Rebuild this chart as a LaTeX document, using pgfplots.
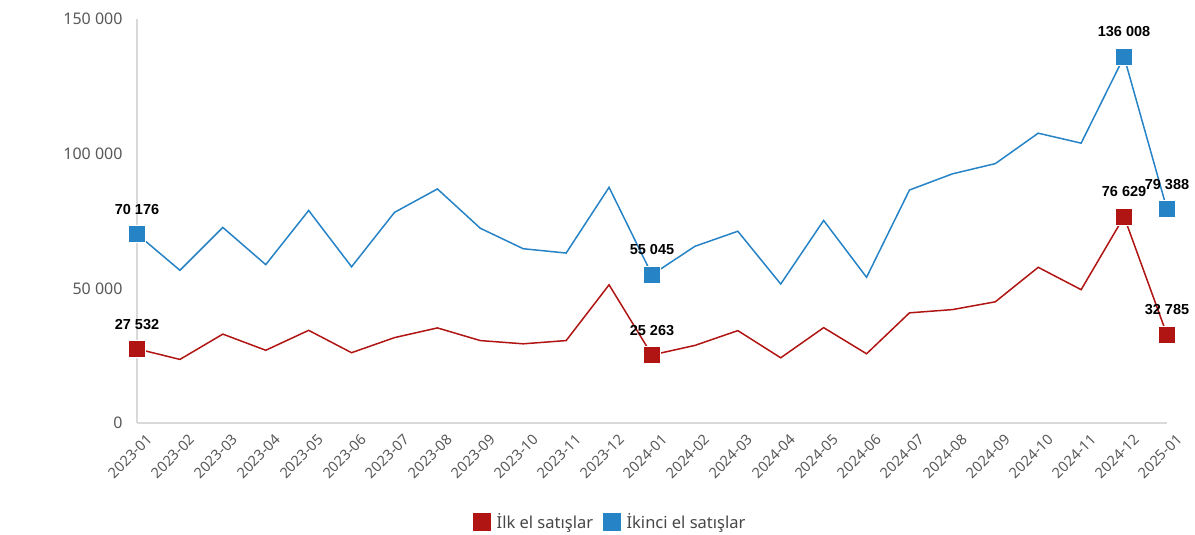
\documentclass[border=0pt]{standalone}
\usepackage{pgfplots}
\pgfplotsset{compat=1.18}
\usepackage{fontspec}
\setmainfont{Noto Sans}
\newfontfamily\lab{Liberation Sans}
\definecolor{cred}{HTML}{B01513}
\definecolor{cblue}{HTML}{2683C6}
\definecolor{tick}{HTML}{595959}
\definecolor{axl}{HTML}{D9D9D9}
\begin{document}
\begin{tikzpicture}[x=1pt,y=1pt]
\path[use as bounding box] (0,0) rectangle (1195,535);
\begin{axis}[
  at={(137pt,112pt)}, anchor=south west,
  scale only axis, width=1030pt, height=404pt,
  xmin=0, xmax=24, ymin=0, ymax=150000,
  scaled y ticks=false,
  axis x line*=bottom, axis y line*=left,
  axis line style={draw=axl, line width=1.2pt, -},
  major tick length=0pt,
  xtick={0,...,24},
  xticklabels={2023-01,2023-02,2023-03,2023-04,2023-05,2023-06,2023-07,2023-08,2023-09,2023-10,2023-11,2023-12,2024-01,2024-02,2024-03,2024-04,2024-05,2024-06,2024-07,2024-08,2024-09,2024-10,2024-11,2024-12,2025-01},
  xticklabel style={rotate=45, anchor=north east, font=\fontsize{14.5}{16}\selectfont, text=tick, inner sep=1pt, xshift=0pt, yshift=-12pt},
  ytick={0,50000,100000,150000},
  yticklabels={0,50 000,100 000,150 000},
  yticklabel style={font=\fontsize{16}{18}\selectfont, text=tick, anchor=east, xshift=-11pt},
  legend style={at={(0.4595,-0.245)}, anchor=center, draw=none, legend columns=2,
    font=\fontsize{16.5}{18}\selectfont, text=tick!80!black,
    /tikz/every odd column/.append style={column sep=4pt},
    /tikz/every even column/.append style={column sep=8pt}},
  legend cell align=left,
  clip=false,
]
\addplot[cred, line width=1.5pt, mark=none,
  legend image code/.code={\fill[cred] (0pt,-8pt) rectangle (16pt,8pt);}]
coordinates {(0,27532)(1,23600)(2,33000)(3,27000)(4,34400)(5,26100)(6,31700)(7,35300)(8,30600)(9,29400)(10,30600)(11,51300)(12,25263)(13,28800)(14,34300)(15,24200)(16,35400)(17,25700)(18,40900)(19,42100)(20,45000)(21,57800)(22,49500)(23,76629)(24,32785)};
\addlegendentry{İlk el satışlar}
\addplot[cblue, line width=1.5pt, mark=none,
  legend image code/.code={\fill[cblue] (0pt,-8pt) rectangle (16pt,8pt);}]
coordinates {(0,70176)(1,56700)(2,72600)(3,58800)(4,78900)(5,58000)(6,78200)(7,86900)(8,72300)(9,64700)(10,63100)(11,87500)(12,55045)(13,65600)(14,71200)(15,51600)(16,75200)(17,54100)(18,86500)(19,92500)(20,96300)(21,107600)(22,103900)(23,136008)(24,79388)};
\addlegendentry{İkinci el satışlar}
\addplot[forget plot, only marks, mark=square*, mark size=8.5pt, mark options={fill=cred, draw=white, line width=0.6pt},
  point meta=explicit symbolic, nodes near coords,
  every node near coord/.append style={font=\lab\bfseries\fontsize{14.5}{16}\selectfont, text=black, yshift=16pt}]
coordinates {(0,27532)[27 532] (12,25263)[25 263] (23,76629)[76 629] (24,32785)[32 785]};
\addplot[forget plot, only marks, mark=square*, mark size=8.5pt, mark options={fill=cblue, draw=white, line width=0.6pt},
  point meta=explicit symbolic, nodes near coords,
  every node near coord/.append style={font=\lab\bfseries\fontsize{14.5}{16}\selectfont, text=black, yshift=16pt}]
coordinates {(0,70176)[70 176] (12,55045)[55 045] (23,136008)[136 008] (24,79388)[79 388]};
\end{axis}
\end{tikzpicture}
\end{document}
